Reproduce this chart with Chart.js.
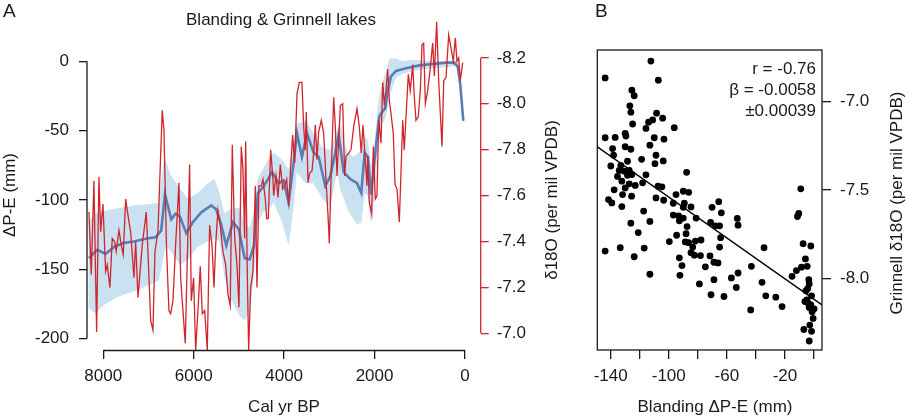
<!DOCTYPE html>
<html>
<head>
<meta charset="utf-8">
<script src="https://cdn.jsdelivr.net/npm/chart.js@4.4.1/dist/chart.umd.min.js"></script>
<style>
  html, body { margin: 0; padding: 0; background: #fff; }
  #wrap { position: relative; width: 906px; height: 419px; overflow: hidden; }
  canvas { position: absolute; top: 0; }
  #chartA { left: 0; width: 580px; height: 419px; }
  #chartB { left: 580px; width: 326px; height: 419px; }
</style>
</head>
<body>
<div id="wrap">
  <canvas id="chartA" width="580" height="419"></canvas>
  <canvas id="chartB" width="326" height="419"></canvas>
</div>
<script>
// Панель A: Grinnell δ18O (красная линия), cal yr BP
const redYears = [8317, 8266, 8207, 8147, 8096, 8058, 8007, 7948, 7912, 7853, 7802, 7749, 7714, 7654, 7603, 7558,
  7505, 7432, 7395, 7322, 7284, 7233, 7138, 7050, 7012, 6952, 6901, 6857, 6791, 6696, 6658, 6599, 6548, 6510,
  6459, 6400, 6326, 6289, 6187, 6091, 6054, 6002, 5957, 5906, 5855, 5811, 5758, 5700, 5648, 5596, 5552, 5515,
  5464, 5413, 5353, 5294, 5243, 5192, 5147, 5094, 5043, 4999, 4948, 4911, 4873, 4851, 4816, 4785, 4740, 4689,
  4638, 4601, 4557, 4506, 4468, 4417, 4386, 4351, 4298, 4247, 4232, 4181, 4136, 4085, 4033, 3988, 3944, 3900,
  3864, 3812, 3767, 3716, 3665, 3606, 3568, 3533, 3510, 3473, 3435, 3384, 3347, 3311, 3274, 3236, 3178, 3126,
  3067, 3030, 3001, 2957, 2904, 2868, 2831, 2794, 2757, 2705, 2661, 2632, 2573, 2522, 2462, 2389, 2338, 2294,
  2256, 2205, 2168, 2152, 2117, 2064, 2028, 1984, 1947, 1909, 1858, 1820, 1785, 1747, 1710, 1674, 1637, 1586,
  1548, 1504, 1453, 1416, 1378, 1343, 1305, 1254, 1210, 1157, 1121, 1084, 1033, 989, 951, 914, 877, 826, 774,
  715, 678, 627, 582, 553, 509, 471, 420, 361, 310, 259, 214, 177, 139, 104, 51];
const redD18O = [-7.528, -7.256, -7.664, -7.006, -7.682, -7.442, -7.563, -7.270, -7.299, -7.199, -7.413, -7.399,
  -7.356, -7.449, -7.385, -7.342, -7.585, -7.485, -7.442, -7.242, -7.399, -7.156, -7.385, -7.528, -7.356, -7.056,
  -7.013, -7.356, -7.442, -7.971, -7.885, -7.356, -7.099, -7.085, -7.142, -7.385, -7.656, -7.242, -6.956, -7.735,
  -7.142, -7.242, -6.927, -7.099, -7.292, -7.085, -7.099, -6.927, -7.471, -7.385, -7.199, -7.385, -7.535, -7.471,
  -7.356, -7.299, -7.170, -7.120, -7.821, -7.413, -7.299, -7.113, -7.814, -7.714, -7.413, -7.835, -7.270, -6.927,
  -7.199, -7.270, -7.642, -7.199, -7.642, -7.642, -7.671, -7.585, -7.499, -7.499, -7.799, -7.671, -7.599, -7.685,
  -7.592, -7.735, -7.628, -7.642, -7.671, -7.557, -7.699, -7.864, -7.742, -8.043, -8.093, -8.093, -7.900, -7.799,
  -7.964, -7.656, -7.699, -7.707, -7.785, -7.907, -7.756, -7.878, -7.928, -7.871, -7.642, -7.514, -7.392, -7.714,
  -8.028, -7.900, -7.685, -7.842, -7.992, -8.000, -7.685, -7.771, -7.785, -7.799, -7.900, -7.978, -7.900, -7.785,
  -7.907, -7.756, -7.642, -7.771, -7.571, -7.520, -7.814, -7.585, -7.599, -7.928, -7.828, -8.093, -8.000, -8.057,
  -8.150, -8.014, -7.957, -7.871, -7.649, -7.628, -7.485, -7.699, -7.928, -7.799, -7.943, -8.128, -8.057, -8.171,
  -8.028, -7.928, -7.943, -8.057, -8.257, -8.264, -8.000, -8.057, -8.143, -8.264, -8.121, -8.357, -8.100, -7.986,
  -7.814, -8.100, -8.114, -8.300, -8.243, -8.185, -8.286, -8.185, -8.200, -8.100, -8.179];

// Панель A: Blanding ΔP-E (синяя линия) и доверительная полоса
const blueYears = [8317, 8134, 7948, 7764, 7543, 7322, 7063, 6842, 6718, 6636, 6497, 6400, 6304, 6165, 6017, 5833,
  5612, 5501, 5391, 5280, 5132, 5006, 4873, 4762, 4667, 4579, 4468, 4358, 4269, 4121, 4010, 3900, 3789, 3716,
  3606, 3495, 3347, 3236, 3090, 2980, 2869, 2794, 2683, 2537, 2389, 2294, 2219, 2146, 2079, 1969, 1896, 1820,
  1763, 1710, 1637, 1526, 1305, 1011, 715, 420, 237, 161, 104, 38];
const bluePE = [-142, -136, -139, -134, -131, -130, -128, -127, -122, -96, -114, -110, -112, -124, -116, -109,
  -104, -107, -118, -133, -116, -121, -142, -143, -133, -95, -91, -85, -80, -88, -86, -102, -73, -52,
  -69, -52, -66, -69, -90, -83, -66, -53, -80, -85, -88, -95, -66, -69, -96, -61, -40, -36,
  -34, -21, -11, -7, -5, -3, -2, -1, -1, -4, -17, -43];
const bandYears = [8330, 8170, 7990, 7690, 7320, 6950, 6770, 6660, 6620, 6510, 6300, 6130, 5910, 5690, 5540,
  5430, 5320, 5170, 4980, 4870, 4760, 4670, 4590, 4470, 4360, 4230, 4050, 3900, 3790, 3720, 3530, 3350, 3160,
  2980, 2830, 2760, 2650, 2570, 2460, 2390, 2290, 2220, 2150, 2080, 2010, 1970, 1930, 1860, 1750, 1670, 1530,
  1380, 1160, 720, 350, 200, 125, 50];
const bandUpper = [-115, -110, -108, -106, -104, -103, -102, -70, -72, -82, -92, -99, -95, -88, -85,
  -95, -110, -106, -106, -118, -120, -109, -85, -78, -71, -66, -71, -78, -57, -45, -43, -52, -62,
  -64, -50, -43, -62, -66, -69, -67, -64, -54, -57, -76, -62, -48, -33, -19, -7, 2, 2,
  0, 1, 0, 0, 0, -2, -38];
const bandLower = [-178, -182, -176, -170, -166, -161, -158, -140, -133, -137, -147, -143, -134, -130, -128,
  -130, -156, -172, -184, -187, -180, -156, -118, -109, -107, -102, -116, -133, -105, -80, -88, -88, -99,
  -105, -80, -92, -102, -109, -114, -118, -116, -95, -97, -118, -100, -80, -65, -47, -40, -25, -12,
  -9, -7, -5, -4, -3, -8, -45];

// Подписи делений
const xTicksA = [8000, 6000, 4000, 2000, 0];
const leftTicksA = [0, -50, -100, -150, -200];
const rightTicksA = [-8.2, -8.0, -7.8, -7.6, -7.4, -7.2, -7.0];

// Панель B: диаграмма рассеяния
const scatterPE = [-112.3, -143.8, -107.2, -125.4, -123.8, -126.8, -126.1, -108.4, -104.2, -111.1, -113.9, -124.9,
  -115.7, -96.2, -130, -129.5, -143.8, -136.9, -110, -103.3, -113, -130, -138.7, -126.1, -108.8, -138, -118.7,
  -103.8, -109.5, -128.4, -139.9, -133, -134.1, -127.2, -130.7, -87.7, -135.3, -128.4, -125.4, -115.7, -132.3,
  -123.1, -127.2, -118, -107.4, -104.7, -137.6, -130, -131.8, -125.6, -141.5, -139.2, -108.8, -103.5, -95, -90,
  -86.3, -132.3, -96.9, -89.3, -90, -84.7, -117.3, -96.9, -93.2, -90, -92.7, -81.2, -126.1, -113, -87.4, -121,
  -94.6, -88.1, -99.6, -88.6, -81.7, -77.8, -86.3, -83.5, -143.8, -133.4, -116.9, -84.7, -82.4, -123.8, -92.7,
  -78.2, -71.6, -90.9, -74.8, -113, -92.3, -78.9, -70.9,
  -70.2, -65.6, -63.8, -67.9, -65, -71.2, -64.3, -65, -68.9, -66.1, -68.9, -62, -52.8, -52.3, -52.3, -56.9,
  -53.5, -43.1, -43.6, -34.4, -35.8, -33.2, -26.3, -22,
  -9.1, -10.5, -11.4, -7.5, -2.2, -5.9, -4.7, -8.6, -12.1, -15.1, -3.6, -3.3, -4.4, -5.6, -1.7, -6.3, -4, -2.2,
  0.1, -1.3, -3.3, -0.6, -2.9, -7, -1.7, -3.3, -5];
const scatterD18O = [-6.77, -6.865, -6.878, -6.935, -6.966, -7.023, -7.059, -7.065, -7.093, -7.103, -7.116, -7.126,
  -7.151, -7.147, -7.179, -7.194, -7.204, -7.202, -7.204, -7.212, -7.246, -7.255, -7.265, -7.269, -7.303, -7.303,
  -7.326, -7.335, -7.351, -7.337, -7.364, -7.36, -7.389, -7.389, -7.393, -7.4, -7.423, -7.417, -7.412, -7.414,
  -7.45, -7.474, -7.465, -7.459, -7.478, -7.482, -7.499, -7.488, -7.526, -7.535, -7.554, -7.573, -7.545, -7.558,
  -7.526, -7.507, -7.513, -7.594, -7.575, -7.575, -7.598, -7.596, -7.619, -7.642, -7.646, -7.659, -7.674, -7.659,
  -7.688, -7.678, -7.707, -7.741, -7.756, -7.747, -7.792, -7.794, -7.789, -7.783, -7.798, -7.823, -7.846, -7.827,
  -7.829, -7.855, -7.869, -7.878, -7.884, -7.871, -7.873, -7.928, -7.935, -7.977, -7.983, -8.032, -8.093,
  -7.598, -7.566, -7.629, -7.703, -7.703, -7.684, -7.77, -7.823, -7.909, -7.913, -8.008, -8.103, -7.661, -7.699,
  -7.97, -7.998, -8.052, -7.932, -8.179, -7.827, -8.023, -8.099, -8.107, -8.16,
  -7.493, -7.633, -7.65, -7.804, -7.817, -7.89, -7.932, -7.937, -7.956, -7.989, -8.008, -8.032, -8.059, -8.071,
  -8.099, -8.132, -8.141, -8.151, -8.173, -8.189, -8.166, -8.227, -8.265, -8.29, -8.3, -8.355, -8.122];
// концы линии регрессии (β = -0.0058)
const fitPE = [-149.2, 5.5];
const fitD18O = [-7.255, -8.151];
const statsText = ['r = -0.76', 'β = -0.0058', '±0.00039'];

const xTicksB = [-140, -120, -100, -80, -60, -40, -20, 0];
const xLabelsB = [-140, -100, -60, -20];
const yTicksB = [-7.0, -7.5, -8.0];

const RED = '#d1242b';
const BLUE = '#5a7db5';
const BAND = '#c9e1f1';
const INK = '#1a1a1a';
const FONT = '"Liberation Sans", Arial, Helvetica, sans-serif';

Chart.defaults.font.family = FONT;
Chart.defaults.font.size = 17;
Chart.defaults.color = INK;

const pts = (xs, ys) => xs.map((x, i) => ({ x: x, y: ys[i] }));
const setTicks = list => s => { s.ticks = list.map(v => ({ value: v })); };

// линии осей только в пределах делений
const axisLines = {
  id: 'axisLines',
  afterDraw(chart, args, opts) {
    const ctx = chart.ctx;
    const area = chart.chartArea;
    ctx.save();
    ctx.lineWidth = 1.3;
    (opts.lines || []).forEach(l => {
      const s = chart.scales[l.scale];
      ctx.strokeStyle = l.color || INK;
      ctx.beginPath();
      if (s.isHorizontal()) {
        const y = area.bottom + 0.5;
        ctx.moveTo(s.getPixelForValue(l.from), y);
        ctx.lineTo(s.getPixelForValue(l.to), y);
      } else {
        const x = l.side === 'right' ? area.right : area.left;
        ctx.moveTo(x, s.getPixelForValue(l.from));
        ctx.lineTo(x, s.getPixelForValue(l.to));
      }
      ctx.stroke();
    });
    if (opts.frame) {
      ctx.strokeStyle = INK;
      ctx.strokeRect(area.left, area.top, area.right - area.left, area.bottom - area.top);
    }
    ctx.restore();
  }
};

// подписи и заголовки
const texts = {
  id: 'texts',
  afterDraw(chart, args, opts) {
    const ctx = chart.ctx;
    (opts.items || []).forEach(t => {
      ctx.save();
      ctx.font = (t.size || 17) + 'px ' + FONT;
      ctx.fillStyle = INK;
      ctx.textAlign = t.align || 'center';
      ctx.textBaseline = t.baseline || 'middle';
      ctx.translate(t.x, t.y);
      if (t.rotate) ctx.rotate(t.rotate);
      ctx.fillText(t.text, 0, 0);
      ctx.restore();
    });
  }
};

const tickGrid = (len, color) => ({
  drawOnChartArea: false, drawTicks: true, tickLength: len, color: color || INK, lineWidth: 1.3
});

new Chart(document.getElementById('chartA'), {
  type: 'line',
  data: {
    datasets: [
      { data: pts(redYears, redD18O), yAxisID: 'y2', borderColor: RED, borderWidth: 1.3,
        pointRadius: 0, tension: 0, fill: false },
      { data: pts(blueYears, bluePE), yAxisID: 'y', borderColor: BLUE, borderWidth: 2.6,
        pointRadius: 0, tension: 0, fill: false },
      { data: pts(bandYears, bandUpper), yAxisID: 'y', borderColor: 'rgba(0,0,0,0)', borderWidth: 0,
        pointRadius: 0, backgroundColor: BAND, fill: '+1' },
      { data: pts(bandYears, bandLower), yAxisID: 'y', borderColor: 'rgba(0,0,0,0)', borderWidth: 0,
        pointRadius: 0, fill: false }
    ]
  },
  options: {
    responsive: false,
    animation: false,
    events: [],
    layout: { padding: { top: 15, left: 0, right: 0, bottom: 0 } },
    scales: {
      x: {
        type: 'linear', reverse: true, min: -347, max: 8360,
        afterBuildTicks: setTicks(xTicksA),
        afterFit: s => { s.height = 69; },
        grid: tickGrid(9),
        border: { display: false },
        ticks: { padding: 7, maxRotation: 0, autoSkip: false, callback: v => String(v) }
      },
      y: {
        position: 'left', min: -208.3, max: 29.6,
        afterBuildTicks: setTicks(leftTicksA),
        afterFit: s => { s.width = 87; },
        grid: tickGrid(8),
        border: { display: false },
        ticks: { padding: 10, autoSkip: false, callback: v => String(v) }
      },
      y2: {
        position: 'right', reverse: true, min: -8.364, max: -6.927,
        afterBuildTicks: setTicks(rightTicksA),
        afterFit: s => { s.width = 99.3; },
        grid: tickGrid(8, RED),
        border: { display: false },
        ticks: { padding: 8, autoSkip: false, callback: v => Number(v).toFixed(1) }
      }
    },
    plugins: {
      legend: { display: false },
      tooltip: { enabled: false },
      axisLines: {
        lines: [
          { scale: 'x', from: xTicksA[0], to: xTicksA[xTicksA.length - 1] },
          { scale: 'y', from: leftTicksA[0], to: leftTicksA[leftTicksA.length - 1] },
          { scale: 'y2', from: rightTicksA[0], to: rightTicksA[rightTicksA.length - 1], side: 'right', color: RED }
        ]
      },
      texts: {
        items: [
          { text: 'A', x: 3, y: 17, size: 19, align: 'left', baseline: 'alphabetic' },
          { text: 'Blanding & Grinnell lakes', x: 281, y: 20 },
          { text: 'Cal yr BP', x: 284, y: 407 },
          { text: 'ΔP-E (mm)', x: 10, y: 195, rotate: -Math.PI / 2 },
          { text: 'δ18O (per mil VPDB)', x: 552, y: 200, rotate: -Math.PI / 2 }
        ]
      }
    }
  },
  plugins: [axisLines, texts]
});

new Chart(document.getElementById('chartB'), {
  type: 'scatter',
  data: {
    datasets: [
      { data: pts(scatterPE, scatterD18O), pointRadius: 3.4, backgroundColor: '#000', borderWidth: 0 },
      { type: 'line', data: pts(fitPE, fitD18O), showLine: true, borderColor: '#000', borderWidth: 1.4,
        pointRadius: 0, fill: false }
    ]
  },
  options: {
    responsive: false,
    animation: false,
    events: [],
    layout: { padding: { top: 50, left: 17.3, right: 0, bottom: 0 } },
    scales: {
      x: {
        type: 'linear', min: -149.2, max: 5.5,
        afterBuildTicks: setTicks(xTicksB),
        afterFit: s => { s.height = 69; },
        grid: tickGrid(9),
        border: { display: false },
        ticks: { padding: 7, maxRotation: 0, autoSkip: false,
          callback: v => (xLabelsB.includes(v) ? String(v) : '') }
      },
      y: {
        position: 'right', min: -8.406, max: -6.707,
        afterBuildTicks: setTicks(yTicksB),
        afterFit: s => { s.width = 84; },
        grid: tickGrid(9),
        border: { display: false },
        ticks: { padding: 9, autoSkip: false, callback: v => Number(v).toFixed(1) }
      }
    },
    plugins: {
      legend: { display: false },
      tooltip: { enabled: false },
      axisLines: { lines: [], frame: true },
      texts: {
        items: [
          { text: 'B', x: 15, y: 17, size: 19, align: 'left', baseline: 'alphabetic' },
          { text: statsText[0], x: 236, y: 69, align: 'right' },
          { text: statsText[1], x: 236, y: 90, align: 'right' },
          { text: statsText[2], x: 236, y: 111, align: 'right' },
          { text: 'Blanding ΔP-E (mm)', x: 135, y: 407 },
          { text: 'Grinnell δ18O (per mil VPDB)', x: 317, y: 203, rotate: -Math.PI / 2 }
        ]
      }
    }
  },
  plugins: [axisLines, texts]
});
</script>
</body>
</html>
